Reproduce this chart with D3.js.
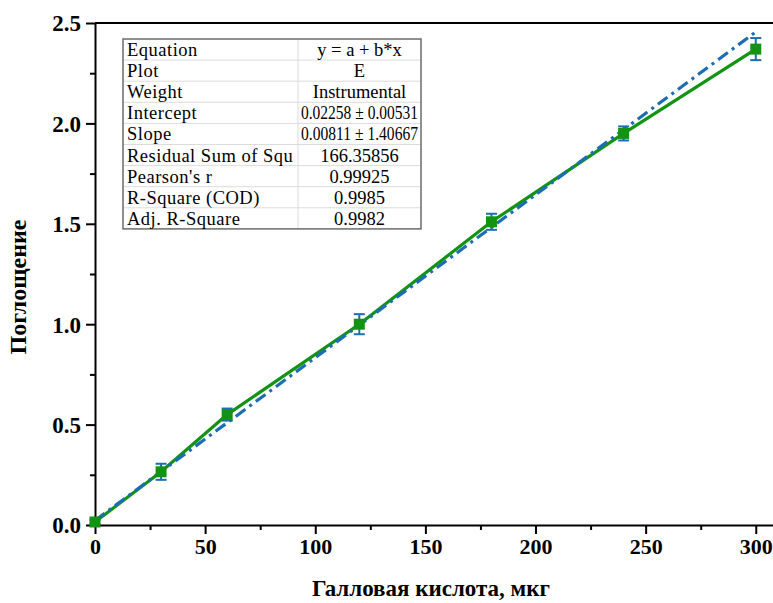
<!DOCTYPE html>
<html>
<head>
<meta charset="utf-8">
<script src="https://cdn.jsdelivr.net/npm/d3@7"></script>
<style>
  body { margin: 0; background: #fff; }
  svg text { font-family: 'Liberation Serif', 'Times New Roman', serif; }
</style>
</head>
<body>
<div class="display"></div>
<script>
const WIDTH = 773;
const HEIGHT = 603;
const LEFT = 95;
const TOP = 23;
const BOTTOM = 525;
const RIGHT = 780; // right frame sits just past the window edge
const SERIF = "'Liberation Serif', 'Times New Roman', serif";

const X_TITLE = 'Галловая кислота, мкг';
const Y_TITLE = 'Поглощение';

// measured points
const concentrations = [0, 30, 60, 120, 180, 240, 300];
const absorbance = [0.015, 0.265, 0.55, 1.0, 1.51, 1.95, 2.37];
const errors = [0.01, 0.04, 0.03, 0.05, 0.04, 0.035, 0.055];

// linear fit y = a + b*x
const fitIntercept = 0.02258;
const fitSlope = 0.00811;
const fitRange = [0, 301];

const xTicks = [0, 50, 100, 150, 200, 250, 300];
const xMinorTicks = [25, 75, 125, 175, 225, 275];
const yTicks = [0, 0.5, 1.0, 1.5, 2.0, 2.5];
const yMinorTicks = [0.25, 0.75, 1.25, 1.75, 2.25];

const tableLabels = ['Equation', 'Plot', 'Weight', 'Intercept', 'Slope',
  'Residual Sum of Squ', "Pearson's r", 'R-Square (COD)', 'Adj. R-Square'];
const tableValues = ['y = a + b*x', 'E', 'Instrumental', '0.02258 ± 0.00531',
  '0.00811 ± 1.40667', '166.35856', '0.99925', '0.9985', '0.9982'];

const GREEN = '#129412';
const BLUE = '#1c6db3';

const svg = d3.select('.display')
  .append('svg')
  .attr('width', WIDTH)
  .attr('height', HEIGHT)
  .style('display', 'block');

const x = d3.scaleLinear()
  .domain([0, 311])
  .range([LEFT, RIGHT]);

const y = d3.scaleLinear()
  .domain([0, 2.5])
  .range([BOTTOM, TOP]);

// top frame line
svg.append('line')
  .attr('x1', LEFT).attr('x2', RIGHT)
  .attr('y1', TOP).attr('y2', TOP)
  .attr('stroke', '#000')
  .attr('stroke-width', 2);

function styleAxis(g) {
  g.attr('font-family', SERIF);
  g.select('.domain').attr('stroke-width', 2);
  g.selectAll('.tick line').attr('stroke-width', 2);
  g.selectAll('.tick text')
    .style('font-size', '22px')
    .style('font-weight', 'bold')
    .attr('fill', '#000');
}

// minor ticks first so the axis line covers their ends
svg.append('g')
  .attr('transform', `translate(0, ${BOTTOM})`)
  .call(d3.axisBottom(x).tickValues(xMinorTicks).tickSize(5).tickFormat(''))
  .call(g => g.select('.domain').remove())
  .call(g => g.selectAll('.tick line').attr('stroke-width', 2));

svg.append('g')
  .attr('transform', `translate(${LEFT}, 0)`)
  .call(d3.axisLeft(y).tickValues(yMinorTicks).tickSize(5).tickFormat(''))
  .call(g => g.select('.domain').remove())
  .call(g => g.selectAll('.tick line').attr('stroke-width', 2));

svg.append('g')
  .attr('transform', `translate(0, ${BOTTOM})`)
  .call(d3.axisBottom(x).tickValues(xTicks).tickSize(9).tickSizeOuter(0).tickPadding(4))
  .call(styleAxis);

svg.append('g')
  .attr('transform', `translate(${LEFT}, 0)`)
  .call(d3.axisLeft(y).tickValues(yTicks).tickSize(9).tickSizeOuter(0).tickPadding(5)
    .tickFormat(d3.format('.1f')))
  .call(styleAxis)
  .call(g => g.selectAll('.tick text').attr('dy', '0.34em')
    .style('font-size', '23px'));

// axis titles
svg.append('text')
  .attr('x', 431)
  .attr('y', 596)
  .attr('text-anchor', 'middle')
  .style('font-size', '23px')
  .style('font-weight', 'bold')
  .text(X_TITLE);

svg.append('text')
  .attr('transform', 'translate(26, 287) rotate(-90)')
  .attr('text-anchor', 'middle')
  .style('font-size', '24px')
  .style('font-weight', 'bold')
  .text(Y_TITLE);

const points = concentrations.map((c, i) => ({ c, a: absorbance[i], e: errors[i] }));

// connecting line through the data
svg.append('path')
  .datum(points)
  .attr('fill', 'none')
  .attr('stroke', GREEN)
  .attr('stroke-width', 3.2)
  .attr('d', d3.line().x(d => x(d.c)).y(d => y(d.a)));

// fit line
svg.append('path')
  .datum(fitRange)
  .attr('fill', 'none')
  .attr('stroke', BLUE)
  .attr('stroke-width', 3.2)
  .attr('stroke-dasharray', '12,5,3,5')
  .attr('d', d3.line().x(d => x(d)).y(d => y(fitIntercept + fitSlope * d)));

// error bars
const bars = svg.append('g')
  .attr('stroke', BLUE)
  .attr('stroke-width', 2);

bars.selectAll('.err')
  .data(points)
  .enter()
  .append('line')
  .attr('x1', d => x(d.c)).attr('x2', d => x(d.c))
  .attr('y1', d => y(d.a - d.e)).attr('y2', d => y(d.a + d.e));

bars.selectAll('.cap-top')
  .data(points)
  .enter()
  .append('line')
  .attr('x1', d => x(d.c) - 5.5).attr('x2', d => x(d.c) + 5.5)
  .attr('y1', d => y(d.a + d.e)).attr('y2', d => y(d.a + d.e));

bars.selectAll('.cap-bottom')
  .data(points)
  .enter()
  .append('line')
  .attr('x1', d => x(d.c) - 5.5).attr('x2', d => x(d.c) + 5.5)
  .attr('y1', d => y(d.a - d.e)).attr('y2', d => y(d.a - d.e));

svg.selectAll('.point')
  .data(points)
  .enter()
  .append('rect')
  .attr('class', 'point')
  .attr('x', d => x(d.c) - 5.5)
  .attr('y', d => y(d.a) - 5.5)
  .attr('width', 11)
  .attr('height', 11)
  .attr('fill', GREEN);

// results table
const TABLE_X = 123;
const TABLE_Y = 39;
const ROW_H = 21.1;
const COL1_W = 175;
const COL2_W = 123;
const TABLE_FONT = 18.5;

const table = svg.append('g')
  .attr('transform', `translate(${TABLE_X}, ${TABLE_Y})`);

table.append('rect')
  .attr('width', COL1_W + COL2_W)
  .attr('height', ROW_H * tableLabels.length)
  .attr('fill', '#fff');

for (let i = 1; i < tableLabels.length; i++) {
  table.append('line')
    .attr('x1', 0).attr('x2', COL1_W + COL2_W)
    .attr('y1', i * ROW_H).attr('y2', i * ROW_H)
    .attr('stroke', '#dcdcdc')
    .attr('stroke-width', 1);
}

table.append('line')
  .attr('x1', COL1_W).attr('x2', COL1_W)
  .attr('y1', 0).attr('y2', ROW_H * tableLabels.length)
  .attr('stroke', '#dcdcdc')
  .attr('stroke-width', 1);

table.append('rect')
  .attr('width', COL1_W + COL2_W)
  .attr('height', ROW_H * tableLabels.length)
  .attr('fill', 'none')
  .attr('stroke', '#6b6b6b')
  .attr('stroke-width', 1.5);

tableLabels.forEach((label, i) => {
  const lbl = table.append('text')
    .attr('x', 4)
    .attr('y', i * ROW_H + 17)
    .style('font-size', `${TABLE_FONT}px`)
    .style('letter-spacing', '0.5px')
    .text(label);
  if (lbl.node().getComputedTextLength() > COL1_W - 6) {
    lbl.attr('textLength', COL1_W - 6).attr('lengthAdjust', 'spacingAndGlyphs');
  }

  const val = table.append('text')
    .attr('x', COL1_W + COL2_W / 2)
    .attr('y', i * ROW_H + 17)
    .attr('text-anchor', 'middle')
    .style('font-size', `${TABLE_FONT}px`)
    .text(tableValues[i]);
  // long values are squeezed to fit the cell, as in the source table
  if (val.node().getComputedTextLength() > COL2_W - 6) {
    val.attr('textLength', COL2_W - 6).attr('lengthAdjust', 'spacingAndGlyphs');
  }
});
</script>
</body>
</html>
